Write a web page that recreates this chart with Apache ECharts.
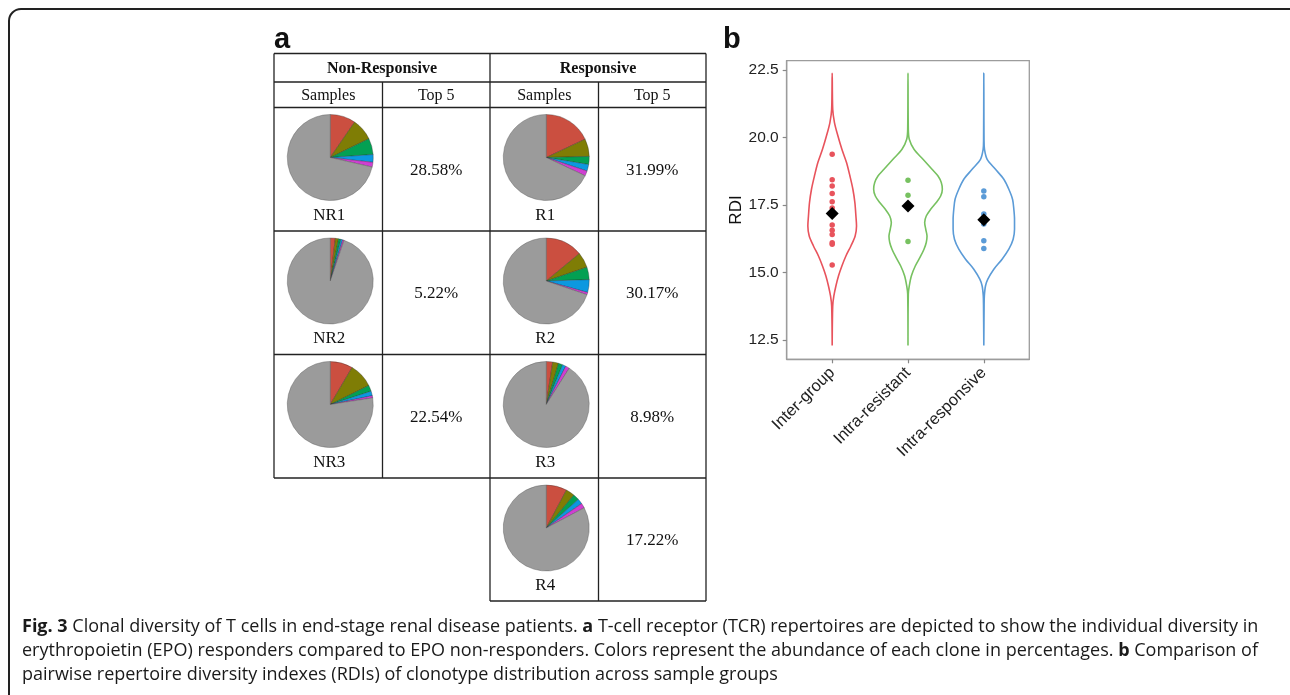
<!DOCTYPE html>
<html><head><meta charset="utf-8">
<script src="https://cdn.jsdelivr.net/npm/echarts@6/dist/echarts.min.js"></script>
<style>html,body{margin:0;padding:0;background:#fff}#c{width:1290px;height:695px}</style>
</head><body><div id="c"></div>
<script>
// ---------- Panel a data ----------
const groupNames = ['Non-Responsive', 'Responsive'];
const colHeaders = ['Samples', 'Top 5', 'Samples', 'Top 5'];
const nrSamples = ['NR1', 'NR2', 'NR3'];
const rSamples = ['R1', 'R2', 'R3', 'R4'];
const nrTop5 = ['28.58%', '5.22%', '22.54%'];
const rTop5 = ['31.99%', '30.17%', '8.98%', '17.22%'];
// top-5 clone abundances (%)
const clonesNR1 = [9.6, 8.2, 6.1, 2.9, 1.78];
const clonesNR2 = [1.9, 1.2, 0.9, 0.7, 0.52];
const clonesNR3 = [8.5, 9.2, 2.3, 1.7, 0.84];
const clonesR1 = [18.0, 6.6, 3.0, 2.5, 1.89];
const clonesR2 = [14.0, 5.8, 4.7, 4.8, 0.87];
const clonesR3 = [2.4, 2.2, 1.6, 1.3, 1.48];
const clonesR4 = [7.8, 3.3, 2.3, 2.0, 1.82];

// ---------- Panel b data ----------
const rdiCategories = ['Inter-group', 'Intra-resistant', 'Intra-responsive'];
const rdiTicks = [12.5, 15.0, 17.5, 20.0, 22.5];
const rdiInter = [19.38, 18.43, 18.20, 17.92, 17.62, 17.39, 16.76, 16.56, 16.41, 16.10, 16.04, 15.28];
const rdiIntraResistant = [18.41, 17.86, 16.15];
const rdiIntraResponsive = [18.02, 17.80, 17.16, 16.79, 16.17, 15.89];
const rdiMeans = [17.18, 17.46, 16.95];
// violin outlines: RDI levels and half-widths (in category units)
const violinInterY = [12.3, 13.76, 14.13, 14.5, 14.87, 15.24, 15.61, 15.98, 16.35, 16.72, 17.09, 17.59, 18.08, 18.57, 19.07, 19.56, 20.06, 20.55, 21.04, 22.38];
const violinInterW = [0, 0.007, 0.022, 0.049, 0.083, 0.128, 0.181, 0.247, 0.303, 0.321, 0.313, 0.299, 0.273, 0.234, 0.189, 0.128, 0.075, 0.030, 0.007, 0];
const violinResY = [12.3, 14.2, 14.5, 14.87, 15.24, 15.61, 15.86, 16.11, 16.35, 16.6, 16.85, 17.09, 17.34, 17.59, 17.83, 18.08, 18.33, 18.57, 18.82, 19.19, 19.56, 19.93, 20.3, 22.38];
const violinResW = [0, 0.004, 0.017, 0.044, 0.096, 0.168, 0.211, 0.241, 0.251, 0.234, 0.220, 0.241, 0.299, 0.373, 0.431, 0.453, 0.439, 0.396, 0.317, 0.198, 0.079, 0.017, 0.004, 0];
const violinRespY = [12.3, 13.8, 14.13, 14.5, 14.75, 15.12, 15.49, 15.86, 16.23, 16.6, 16.97, 17.34, 17.71, 18.08, 18.45, 18.82, 19.19, 19.56, 19.9, 22.38];
const violinRespW = [0, 0.004, 0.007, 0.022, 0.053, 0.132, 0.241, 0.330, 0.387, 0.405, 0.405, 0.396, 0.379, 0.330, 0.264, 0.154, 0.044, 0.009, 0.003, 0];

// ---------- styles ----------
const cloneColors = ['#CB4F40', '#7F7D05', '#03A053', '#0C98E0', '#CF3FD2'];
const restColor = '#9B9B9B';
const groupColors = ['#E8535C', '#77C160', '#5B9BD7'];
const serif = '"Liberation Serif", "Times New Roman", serif';
const sans = '"Liberation Sans", Arial, sans-serif';
const capFont = '"Open Sans", Lato, sans-serif';

// ---------- layout ----------
const colX = [274, 382.5, 490, 598.5, 706];
const rowY = [53.5, 82, 107.5, 231, 354.5, 478, 601];
const pieR = 43;

const chart = echarts.init(document.getElementById('c'), null, {renderer: 'canvas'});
const graphics = [];
const line = (x1, y1, x2, y2) => graphics.push({type: 'line', silent: true, shape: {x1, y1, x2, y2}, style: {stroke: '#222', lineWidth: 1.3}});
const txt = (x, y, text, font, size, weight, align) => graphics.push({type: 'text', silent: true, x, y, style: {text, fontFamily: font, fontSize: size, fontWeight: weight || 'normal', fill: '#111', align: align || 'center', verticalAlign: 'middle'}});

// outer frame
graphics.push({type: 'rect', silent: true, shape: {x: 9, y: 9, width: 1330, height: 730, r: 12}, style: {fill: 'none', stroke: '#222', lineWidth: 2}});

// table lines
for (let r = 0; r <= 5; r++) line(colX[0], rowY[r], colX[4], rowY[r]);
line(colX[2], rowY[6], colX[4], rowY[6]);
line(colX[0], rowY[0], colX[0], rowY[5]);
line(colX[4], rowY[0], colX[4], rowY[6]);
line(colX[2], rowY[0], colX[2], rowY[6]);
line(colX[1], rowY[1], colX[1], rowY[5]);
line(colX[3], rowY[1], colX[3], rowY[6]);

// headers
txt((colX[0] + colX[2]) / 2, (rowY[0] + rowY[1]) / 2 + 1, groupNames[0], serif, 16, 'bold');
txt((colX[2] + colX[4]) / 2, (rowY[0] + rowY[1]) / 2 + 1, groupNames[1], serif, 16, 'bold');
colHeaders.forEach((h, i) => txt((colX[i] + colX[i + 1]) / 2, (rowY[1] + rowY[2]) / 2 + 1, h, serif, 16));

// pies
const series = [];
function addPie(vals, name, top5, colIdx, rowIdx) {
  const cx = (colX[colIdx] + colX[colIdx + 1]) / 2 + 2;
  const top = rowY[rowIdx];
  const cy = top + 50;
  const sum = vals.reduce((a, b) => a + b, 0);
  const data = vals.map((v, i) => ({value: v, itemStyle: {color: cloneColors[i], borderColor: 'rgba(40,40,40,0.55)'}}));
  data.push({value: 100 - sum, itemStyle: {color: restColor, borderColor: 'rgba(90,90,90,0.7)'}});
  series.push({type: 'pie', silent: true, animation: false, center: [cx, cy], radius: pieR, startAngle: 90, clockwise: true,
    label: {show: false}, labelLine: {show: false}, emphasis: {disabled: true},
    itemStyle: {borderWidth: 0.6}, data});
  txt(cx - 1, top + 108, name, serif, 17);
  txt((colX[colIdx + 1] + colX[colIdx + 2]) / 2, top + 63, top5, serif, 17);
}
const nrClones = [clonesNR1, clonesNR2, clonesNR3];
const rClones = [clonesR1, clonesR2, clonesR3, clonesR4];
nrSamples.forEach((s, i) => addPie(nrClones[i], s, nrTop5[i], 0, 2 + i));
rSamples.forEach((s, i) => addPie(rClones[i], s, rTop5[i], 2, 2 + i));

// panel letters
txt(274, 40, 'a', sans, 29, 'bold', 'left');
txt(723, 40, 'b', sans, 29, 'bold', 'left');

// caption
const capRich = {
  n: {fontFamily: capFont, fontSize: 18, fill: '#1a1a1a'},
  b: {fontFamily: capFont, fontSize: 18, fontWeight: 'bold', fill: '#1a1a1a'}
};
const capLines = [
  '{b|Fig. 3}{n| Clonal diversity of T cells in end-stage renal disease patients. }{b|a}{n| T-cell receptor (TCR) repertoires are depicted to show the individual diversity in}',
  '{n|erythropoietin (EPO) responders compared to EPO non-responders. Colors represent the abundance of each clone in percentages. }{b|b}{n| Comparison of}',
  '{n|pairwise repertoire diversity indexes (RDIs) of clonotype distribution across sample groups}'
];
capLines.forEach((t, i) => graphics.push({type: 'text', silent: true, x: 22, y: 627 + i * 24, style: {text: t, rich: capRich, fontFamily: capFont, fontSize: 18, align: 'left', verticalAlign: 'middle'}}));

// violins
const violinY = [violinInterY, violinResY, violinRespY];
const violinW = [violinInterW, violinResW, violinRespW];
const rdiPoints = [rdiInter, rdiIntraResistant, rdiIntraResponsive];
rdiCategories.forEach((cat, k) => {
  const c = k + 1;
  const ys = violinY[k], ws = violinW[k];
  const pts = ys.map((y, i) => [c + ws[i], y]);
  for (let i = ys.length - 1; i >= 0; i--) pts.push([c - ws[i], ys[i]]);
  series.push({type: 'line', name: cat, silent: true, animation: false, xAxisIndex: 0, yAxisIndex: 0, data: pts,
    showSymbol: false, smooth: 0.3, lineStyle: {color: groupColors[k], width: 1.6}, z: 2});
  series.push({type: 'scatter', silent: true, animation: false, data: rdiPoints[k].map(v => [c, v]),
    symbolSize: 5.5, itemStyle: {color: groupColors[k], opacity: 1}, z: 3});
});
series.push({type: 'scatter', silent: true, animation: false, data: rdiMeans.map((v, k) => [k + 1, v]),
  symbol: 'diamond', symbolSize: 13, itemStyle: {color: '#000', opacity: 1}, z: 4});

chart.setOption({
  animation: false,
  grid: {left: 786.7, top: 60.7, right: 260.7, bottom: 335.7, show: true, borderColor: '#9C9C9C', borderWidth: 1.3, backgroundColor: 'transparent', containLabel: false},
  xAxis: {type: 'value', min: 0.4, max: 3.6, splitLine: {show: false},
    axisLine: {show: true, lineStyle: {color: '#9C9C9C', width: 1.3}},
    axisTick: {show: true, length: 4, customValues: [1, 2, 3], lineStyle: {color: '#888', width: 1.2}},
    axisLabel: {customValues: [1, 2, 3], formatter: v => rdiCategories[Math.round(v) - 1], rotate: 45, fontSize: 16.5, fontFamily: sans, color: '#222', margin: 11}},
  yAxis: {type: 'value', min: 11.785, max: 22.84, splitLine: {show: false},
    name: 'RDI', nameLocation: 'middle', nameGap: 40, nameTextStyle: {fontSize: 17, fontFamily: sans, color: '#111'},
    axisLine: {show: true, lineStyle: {color: '#9C9C9C', width: 1.3}},
    axisTick: {show: true, length: 4, customValues: rdiTicks, lineStyle: {color: '#888', width: 1.2}},
    axisLabel: {customValues: rdiTicks, formatter: v => v.toFixed(1), fontSize: 15.5, fontFamily: sans, color: '#222', margin: 8}},
  series,
  graphic: graphics
});
</script></body></html>
